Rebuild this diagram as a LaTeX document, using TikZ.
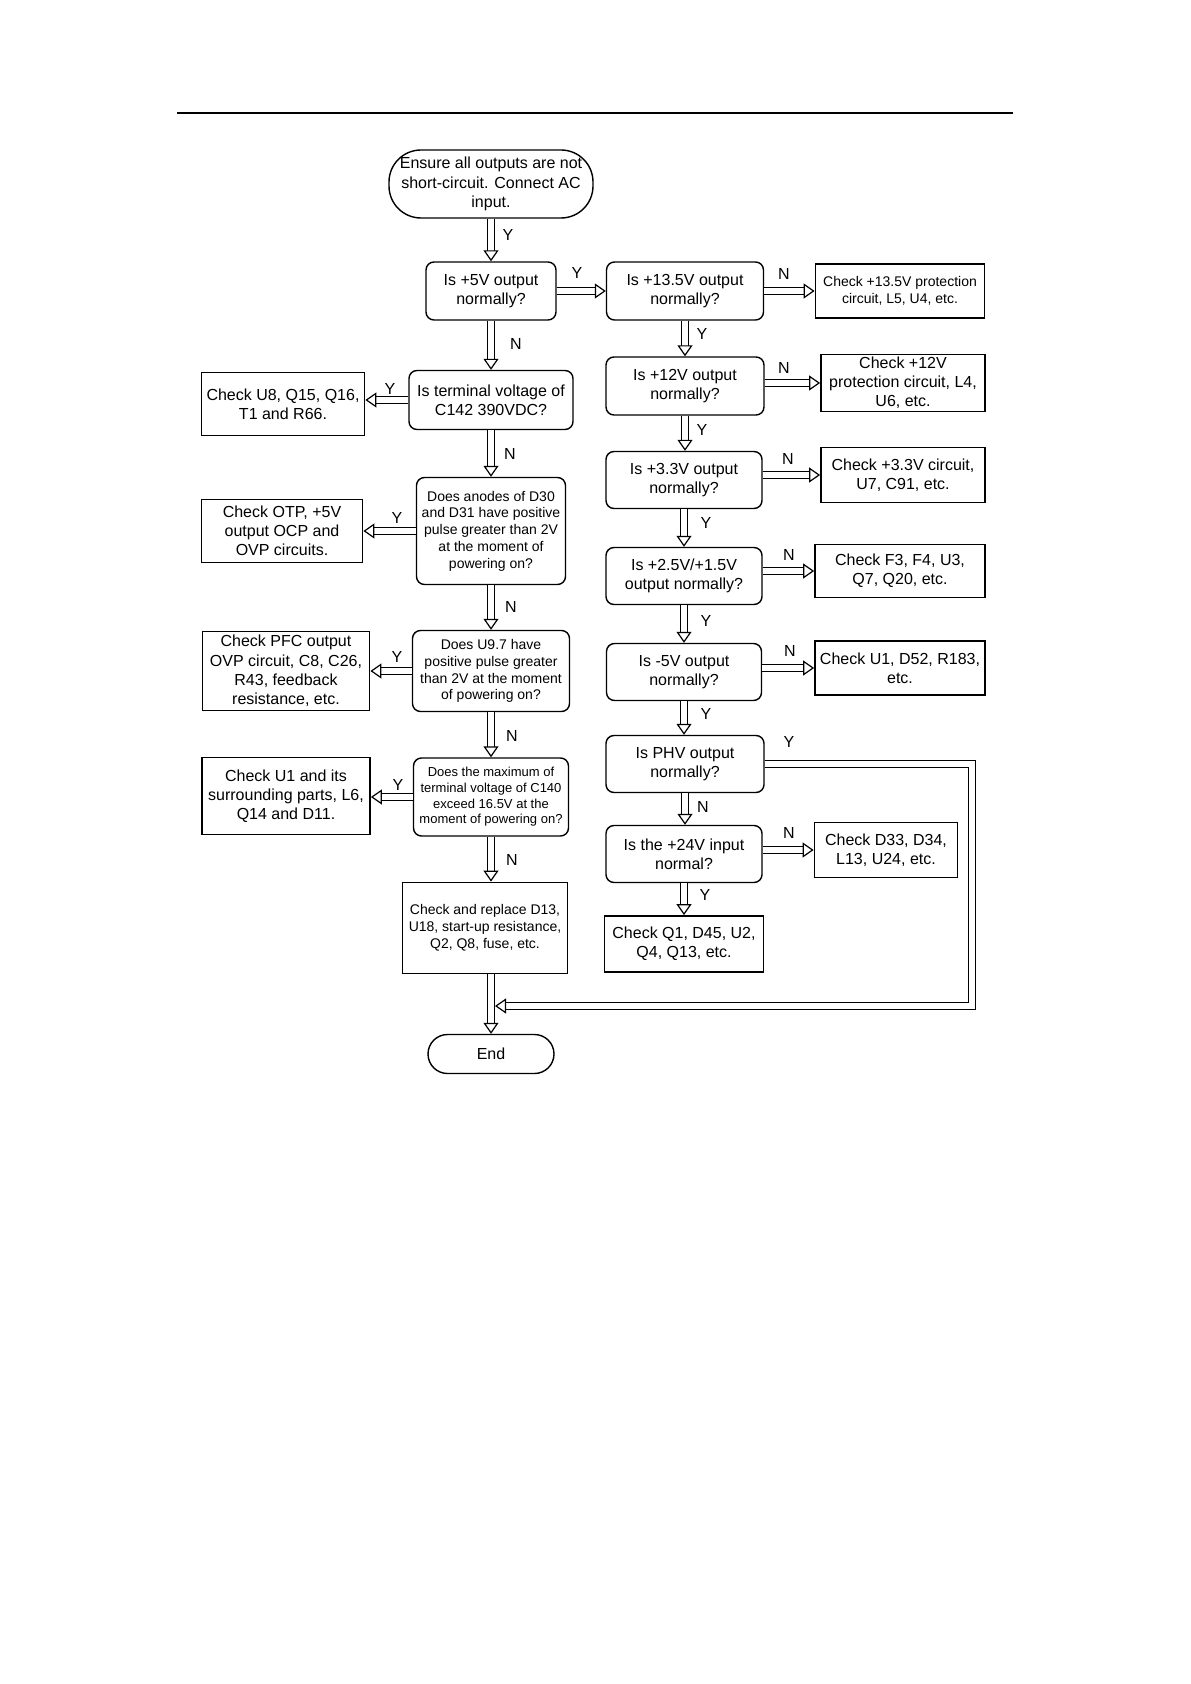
\documentclass[tikz,border=0pt]{standalone}
\usepackage{fontspec}
\setmainfont{Liberation Sans}
\usetikzlibrary{arrows.meta,calc}
\tikzset{
 base/.style={draw, line width=0.7pt, align=center, inner sep=0pt, font=\fontsize{8}{9.6}\selectfont},
 qbox/.style={base, rounded corners=4pt},
 cbox/.style={base, line width=0.9pt},
 term/.style={base, rounded corners=16pt},
 small/.style={font=\fontsize{7}{8.4}\selectfont},
 tiny/.style={font=\fontsize{6.5}{7.8}\selectfont},
 lab/.style={font=\fontsize{8}{9.6}\selectfont, inner sep=0pt},
 shaft/.style={draw, line width=0.6pt, double, double distance=2.8pt, shorten >=5pt},
 hollowtip/.style={draw=white, line width=0.6pt, -{Triangle[open, length=5.5pt, width=7.5pt, color=black]}},
}
\newcommand\harrow[2]{\draw[shaft] #1 -- #2; \draw[hollowtip] ($#2!7pt!#1$) -- #2;}
\begin{document}
\begin{tikzpicture}[x=0.5pt, y=-0.5pt]
\useasboundingbox (0,0) rectangle (1190,1684);
\draw[line width=0.6pt] (177,113) -- (1013,113);
% left column
\node[term, minimum width=102pt, minimum height=34pt] (start) at (491,184) {Ensure all outputs are not\\short-circuit. Connect AC\\input.};
\node[qbox, minimum width=65pt, minimum height=29pt] (q5) at (491,291) {Is +5V output\\normally?};
\node[qbox, minimum width=82pt, minimum height=29.5pt] (qterm) at (491,400) {Is terminal voltage of\\C142 390VDC?};
\node[qbox, small, minimum width=74.5pt, minimum height=53.5pt] (qanode) at (491,531) {Does anodes of D30\\and D31 have positive\\pulse greater than 2V\\at the moment of\\powering on?};
\node[qbox, small, minimum width=78.5pt, minimum height=40.5pt] (qU9) at (491,671) {Does U9.7 have\\positive pulse greater\\than 2V at the moment\\of powering on?};
\node[qbox, tiny, minimum width=77.5pt, minimum height=39pt] (qmax) at (491,797) {Does the maximum of\\terminal voltage of C140\\exceed 16.5V at the\\moment of powering on?};
\node[cbox, small, minimum width=82.5pt, minimum height=45.5pt] (cRep) at (485,928) {Check and replace D13,\\U18, start-up resistance,\\Q2, Q8, fuse, etc.};
\node[term, minimum width=63pt, minimum height=19.5pt, rounded corners=9.75pt] (end) at (491,1054) {End};
% far left
\node[cbox, minimum width=81.5pt, minimum height=31.5pt] (cU8) at (283,404) {Check U8, Q15, Q16,\\T1 and R66.};
\node[cbox, minimum width=80.5pt, minimum height=31.5pt] (cOTP) at (282,531) {Check OTP, +5V\\output OCP and\\OVP circuits.};
\node[cbox, minimum width=83.5pt, minimum height=39.5pt] (cPFC) at (286,671) {Check PFC output\\OVP circuit, C8, C26,\\R43, feedback\\resistance, etc.};
\node[cbox, minimum width=84pt, minimum height=38.5pt] (cU1a) at (286,796) {Check U1 and its\\surrounding parts, L6,\\Q14 and D11.};
% right column
\node[qbox, minimum width=78.5pt, minimum height=29pt] (q135) at (685,291) {Is +13.5V output\\normally?};
\node[qbox, minimum width=79pt, minimum height=29pt] (q12) at (685,386) {Is +12V output\\normally?};
\node[qbox, minimum width=78pt, minimum height=28.5pt] (q33) at (684,480) {Is +3.3V output\\normally?};
\node[qbox, minimum width=78pt, minimum height=28.5pt] (q25) at (684,576) {Is +2.5V/+1.5V\\output normally?};
\node[qbox, minimum width=77.5pt, minimum height=28.5pt] (qm5) at (684,672) {Is -5V output\\normally?};
\node[qbox, minimum width=79pt, minimum height=28.5pt] (qPHV) at (685,764) {Is PHV output\\normally?};
\node[qbox, minimum width=78pt, minimum height=28.5pt] (q24) at (684,854) {Is the +24V input\\normal?};
\node[cbox, minimum width=79.5pt, minimum height=28pt] (cQ1) at (684,944) {Check Q1, D45, U2,\\Q4, Q13, etc.};
% far right
\node[cbox, small, minimum width=84.5pt, minimum height=27pt] (c135) at (900,291) {Check +13.5V protection\\circuit, L5, U4, etc.};
\node[cbox, minimum width=82pt, minimum height=28.5pt] (c12) at (903,383) {Check +12V\\protection circuit, L4,\\U6, etc.};
\node[cbox, minimum width=82pt, minimum height=27.5pt] (c33) at (903,475) {Check +3.3V circuit,\\U7, C91, etc.};
\node[cbox, minimum width=85pt, minimum height=26.5pt] (cF3) at (900,571) {Check F3, F4, U3,\\Q7, Q20, etc.};
\node[cbox, minimum width=85pt, minimum height=27pt] (cU1b) at (900,668) {Check U1, D52, R183,\\etc.};
\node[cbox, minimum width=71.5pt, minimum height=27.5pt] (cD33) at (886,850) {Check D33, D34,\\L13, U24, etc.};
% arrows left column
\harrow{(start.south)}{(start.south |- q5.north)}
\harrow{(q5.south)}{(q5.south |- qterm.north)}
\harrow{(qterm.south)}{(qterm.south |- qanode.north)}
\harrow{(qanode.south)}{(qanode.south |- qU9.north)}
\harrow{(qU9.south)}{(qU9.south |- qmax.north)}
\harrow{(qmax.south)}{(qmax.south |- cRep.north)}
\harrow{(end.north |- cRep.south)}{(end.north)}
\harrow{(qterm.west)}{(qterm.west -| cU8.east)}
\harrow{(qanode.west)}{(qanode.west -| cOTP.east)}
\harrow{(qU9.west)}{(qU9.west -| cPFC.east)}
\harrow{(qmax.west)}{(qmax.west -| cU1a.east)}
\harrow{(q5.east)}{(q5.east -| q135.west)}
% arrows right column
\harrow{(q135.south)}{(q135.south |- q12.north)}
\harrow{(q12.south)}{(q12.south |- q33.north)}
\harrow{(q33.south)}{(q33.south |- q25.north)}
\harrow{(q25.south)}{(q25.south |- qm5.north)}
\harrow{(qm5.south)}{(qm5.south |- qPHV.north)}
\harrow{(qPHV.south)}{(qPHV.south |- q24.north)}
\harrow{(q24.south)}{(q24.south |- cQ1.north)}
\harrow{(c135.west -| q135.east)}{(c135.west)}
\harrow{(c12.west -| q12.east)}{(c12.west)}
\harrow{(c33.west -| q33.east)}{(c33.west)}
\harrow{(cF3.west -| q25.east)}{(cF3.west)}
\harrow{(cU1b.west -| qm5.east)}{(cU1b.west)}
\harrow{(cD33.west -| q24.east)}{(cD33.west)}
% return path
\coordinate (rc) at (972,1006);
\coordinate (rend) at ($(end.north |- rc)+(4,0)$);
\draw[shaft] (qPHV.east) -- (qPHV.east -| rc) -- (rc) -- (rend);
\draw[hollowtip] ($(rend)!7pt!(rc)$) -- (rend);
% labels
\node[lab] (l1) at (508,235) {Y};
\node[lab] (l2) at (577,273) {Y};
\node[lab] (l3) at (784,274) {N};
\node[lab] (l4) at (516,344) {N};
\node[lab] (l5) at (390,389) {Y};
\node[lab] (l6) at (510,454) {N};
\node[lab] (l7) at (397,518) {Y};
\node[lab] (l8) at (511,607) {N};
\node[lab] (l9) at (397,657) {Y};
\node[lab] (l10) at (512,736) {N};
\node[lab] (l11) at (398,785) {Y};
\node[lab] (l12) at (512,860) {N};
\node[lab] (l13) at (702,334) {Y};
\node[lab] (l14) at (784,368) {N};
\node[lab] (l15) at (702,430) {Y};
\node[lab] (l16) at (788,459) {N};
\node[lab] (l17) at (706,523) {Y};
\node[lab] (l18) at (789,555) {N};
\node[lab] (l19) at (706,621) {Y};
\node[lab] (l20) at (790,651) {N};
\node[lab] (l21) at (706,714) {Y};
\node[lab] (l22) at (789,742) {Y};
\node[lab] (l23) at (703,807) {N};
\node[lab] (l24) at (789,833) {N};
\node[lab] (l25) at (705,895) {Y};
\end{tikzpicture}
\end{document}
